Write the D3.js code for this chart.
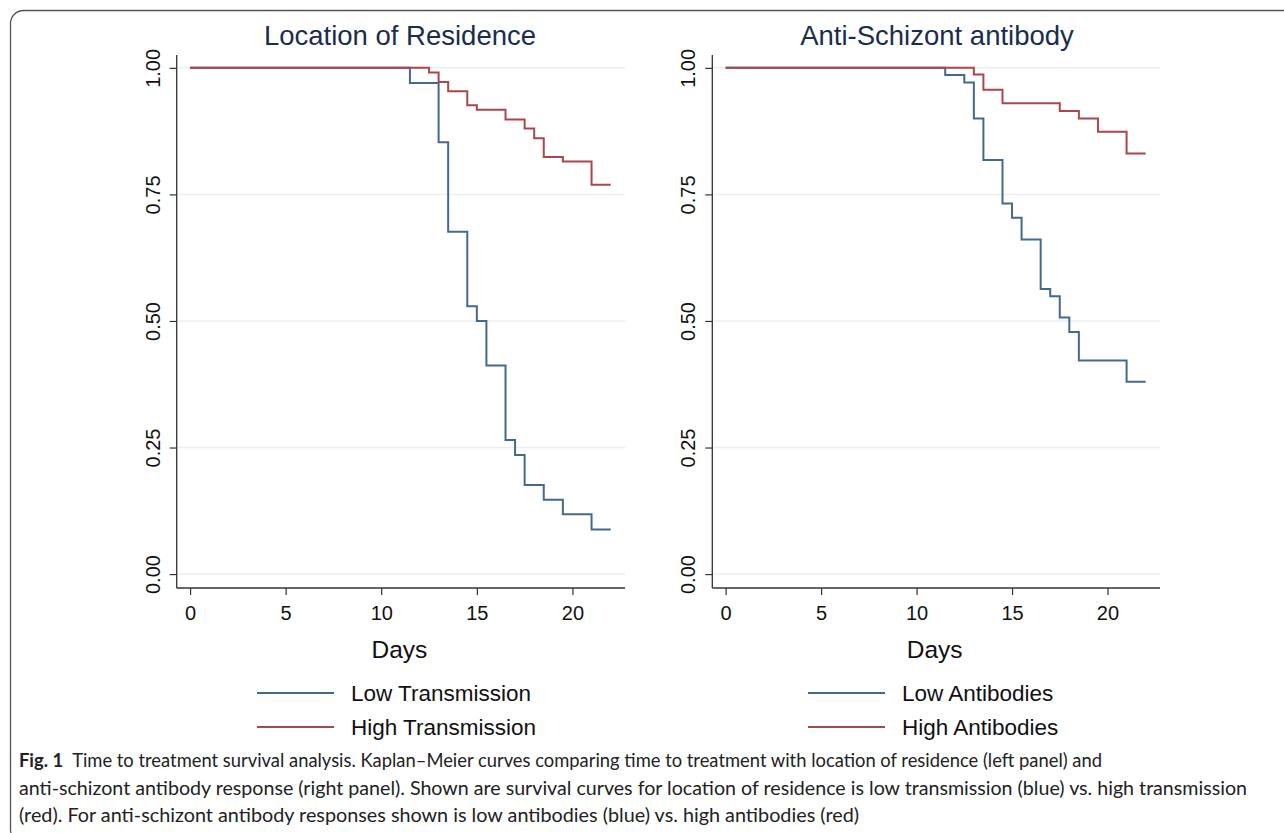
<!DOCTYPE html>
<html>
<head>
<meta charset="utf-8">
<script src="https://cdn.jsdelivr.net/npm/d3@7"></script>
<style>
  html, body { margin: 0; padding: 0; background: #fff; }
  svg { display: block; }
</style>
</head>
<body>
<svg id="chart" width="1284" height="833"></svg>
<script>
// ---------------- data ----------------
const panelTitles = ["Location of Residence", "Anti-Schizont antibody"];
const xTicks = [0, 5, 10, 15, 20];
const yTicks = [0, 0.25, 0.5, 0.75, 1];
const yTickLabels = ["0.00", "0.25", "0.50", "0.75", "1.00"];
const xAxisTitle = "Days";

// Left panel: location of residence
const lowTransDays = [0, 11.5, 13, 13.5, 14.5, 15, 15.5, 16.5, 17, 17.5, 18.5, 19.5, 21, 22];
const lowTransSurv = [1, 0.970, 0.853, 0.676, 0.529, 0.500, 0.412, 0.265, 0.235, 0.176, 0.147, 0.118, 0.088, 0.088];
const highTransDays = [0, 12.5, 13, 13.5, 14.5, 15, 16.5, 17.5, 18, 18.5, 19.5, 21, 22];
const highTransSurv = [1, 0.991, 0.972, 0.954, 0.926, 0.917, 0.898, 0.880, 0.861, 0.824, 0.815, 0.769, 0.769];

// Right panel: anti-schizont antibody
const lowAbDays = [0, 11.5, 12.5, 13, 13.5, 14.5, 15, 15.5, 16.5, 17, 17.5, 18, 18.5, 21, 22];
const lowAbSurv = [1, 0.986, 0.971, 0.900, 0.818, 0.732, 0.704, 0.661, 0.563, 0.549, 0.507, 0.478, 0.422, 0.380, 0.380];
const highAbDays = [0, 13, 13.5, 14.5, 17.5, 18.5, 19.5, 21, 22];
const highAbSurv = [1, 0.987, 0.957, 0.930, 0.915, 0.900, 0.874, 0.831, 0.831];

const legendLeft = ["Low Transmission", "High Transmission"];
const legendRight = ["Low Antibodies", "High Antibodies"];

const captionBold = "Fig. 1";
const captionLines = [
  "Time to treatment survival analysis. Kaplan\u2013Meier curves comparing time to treatment with location of residence (left panel) and",
  "anti-schizont antibody response (right panel). Shown are survival curves for location of residence is low transmission (blue) vs. high transmission",
  "(red). For anti-schizont antibody responses shown is low antibodies (blue) vs. high antibodies (red)"
];

// ---------------- drawing ----------------
const svg = d3.select("#chart");
const FONT = "'Liberation Sans', Arial, Helvetica, sans-serif";
const BLUE = "#44698f";
const RED = "#a8474c";
const zip = (xs, ys) => xs.map((d, i) => ({ t: d, s: ys[i] }));

// outer rounded frame
svg.append("rect")
  .attr("x", 10.5).attr("y", 10.5)
  .attr("width", 1300).attr("height", 832)
  .attr("rx", 13).attr("ry", 13)
  .attr("fill", "none").attr("stroke", "#555").attr("stroke-width", 1.3);

const panels = [
  { x0: 176.7, x1: 625, title: panelTitles[0], titleX: 400, series: [zip(lowTransDays, lowTransSurv), zip(highTransDays, highTransSurv)],
    legend: legendLeft, legLineX: 257, legTextX: 351 },
  { x0: 712.3, x1: 1160, title: panelTitles[1], titleX: 937, series: [zip(lowAbDays, lowAbSurv), zip(highAbDays, highAbSurv)],
    legend: legendRight, legLineX: 808, legTextX: 902 }
];

const yTop = 55, yBot = 588;

panels.forEach(p => {
  const x = d3.scaleLinear().domain([-0.7, 22.75]).range([p.x0, p.x1]);
  const y = d3.scaleLinear().domain([-0.0275, 1.0254]).range([yBot, yTop]);
  const g = svg.append("g");

  // gridlines
  g.append("g").selectAll("line").data(yTicks).join("line")
    .attr("x1", p.x0 + 1).attr("x2", p.x1)
    .attr("y1", d => y(d)).attr("y2", d => y(d))
    .attr("stroke", "#e9eff3").attr("stroke-width", 1.5);

  // y axis
  const yAxis = d3.axisLeft(y).tickValues(yTicks)
    .tickFormat((d, i) => yTickLabels[i]).tickSize(7).tickPadding(4);
  const ya = g.append("g").attr("transform", `translate(${p.x0},0)`).call(yAxis);
  ya.select(".domain").attr("d", `M-0,${yTop}V${yBot}`).attr("stroke", "#333").attr("stroke-width", 1.3);
  ya.selectAll(".tick line").attr("stroke", "#333").attr("stroke-width", 1.2);
  ya.selectAll(".tick text")
    .attr("x", null).attr("dy", null)
    .attr("transform", "translate(-17,0) rotate(-90)")
    .attr("text-anchor", "middle")
    .attr("font-family", FONT).attr("font-size", 20).attr("fill", "#111");

  // x axis
  const xAxis = d3.axisBottom(x).tickValues(xTicks).tickSize(7).tickPadding(9);
  const xa = g.append("g").attr("transform", `translate(0,${yBot})`).call(xAxis);
  xa.select(".domain").attr("d", `M${p.x0},0H${p.x1}`).attr("stroke", "#333").attr("stroke-width", 1.3);
  xa.selectAll(".tick line").attr("stroke", "#333").attr("stroke-width", 1.2);
  xa.selectAll(".tick text")
    .attr("dy", null).attr("y", 32)
    .attr("font-family", FONT).attr("font-size", 20).attr("fill", "#111");

  // x axis title
  g.append("text").attr("x", (x(0) + x(22)) / 2 - 1).attr("y", 658)
    .attr("text-anchor", "middle").attr("font-family", FONT).attr("font-size", 24.5)
    .attr("fill", "#111").text(xAxisTitle);

  // panel title
  g.append("text").attr("x", p.titleX).attr("y", 45)
    .attr("text-anchor", "middle").attr("font-family", FONT).attr("font-size", 27.5)
    .attr("fill", "#1b2d4e").text(p.title);

  // curves
  const line = d3.line().x(d => x(d.t)).y(d => y(d.s)).curve(d3.curveStepAfter);
  const colors = [BLUE, RED];
  p.series.forEach((s, i) => {
    g.append("path").datum(s).attr("d", line)
      .attr("fill", "none").attr("stroke", colors[i]).attr("stroke-width", 2)
      .attr("stroke-linejoin", "miter");
  });

  // legend
  const legY = [693, 727];
  p.legend.forEach((lab, i) => {
    g.append("line").attr("x1", p.legLineX).attr("x2", p.legLineX + 77)
      .attr("y1", legY[i]).attr("y2", legY[i])
      .attr("stroke", colors[i]).attr("stroke-width", 2);
    g.append("text").attr("x", p.legTextX).attr("y", legY[i] + 8)
      .attr("font-family", FONT).attr("font-size", 22.5).attr("fill", "#111").text(lab);
  });
});

// caption
const capFont = "Lato, 'Open Sans', sans-serif";
const capBase = [767, 795, 822];
const capWidths = [1083, 1228, 840];
captionLines.forEach((txt, i) => {
  const t = svg.append("text").attr("x", 19).attr("y", capBase[i])
    .attr("font-family", capFont).attr("font-size", 18.5).attr("fill", "#222")
    .attr("textLength", capWidths[i]).attr("lengthAdjust", "spacingAndGlyphs");
  if (i === 0) {
    t.append("tspan").attr("font-weight", "bold").text(captionBold + "\u00a0\u00a0");
  }
  t.append("tspan").text(txt);
});
</script>
</body>
</html>
